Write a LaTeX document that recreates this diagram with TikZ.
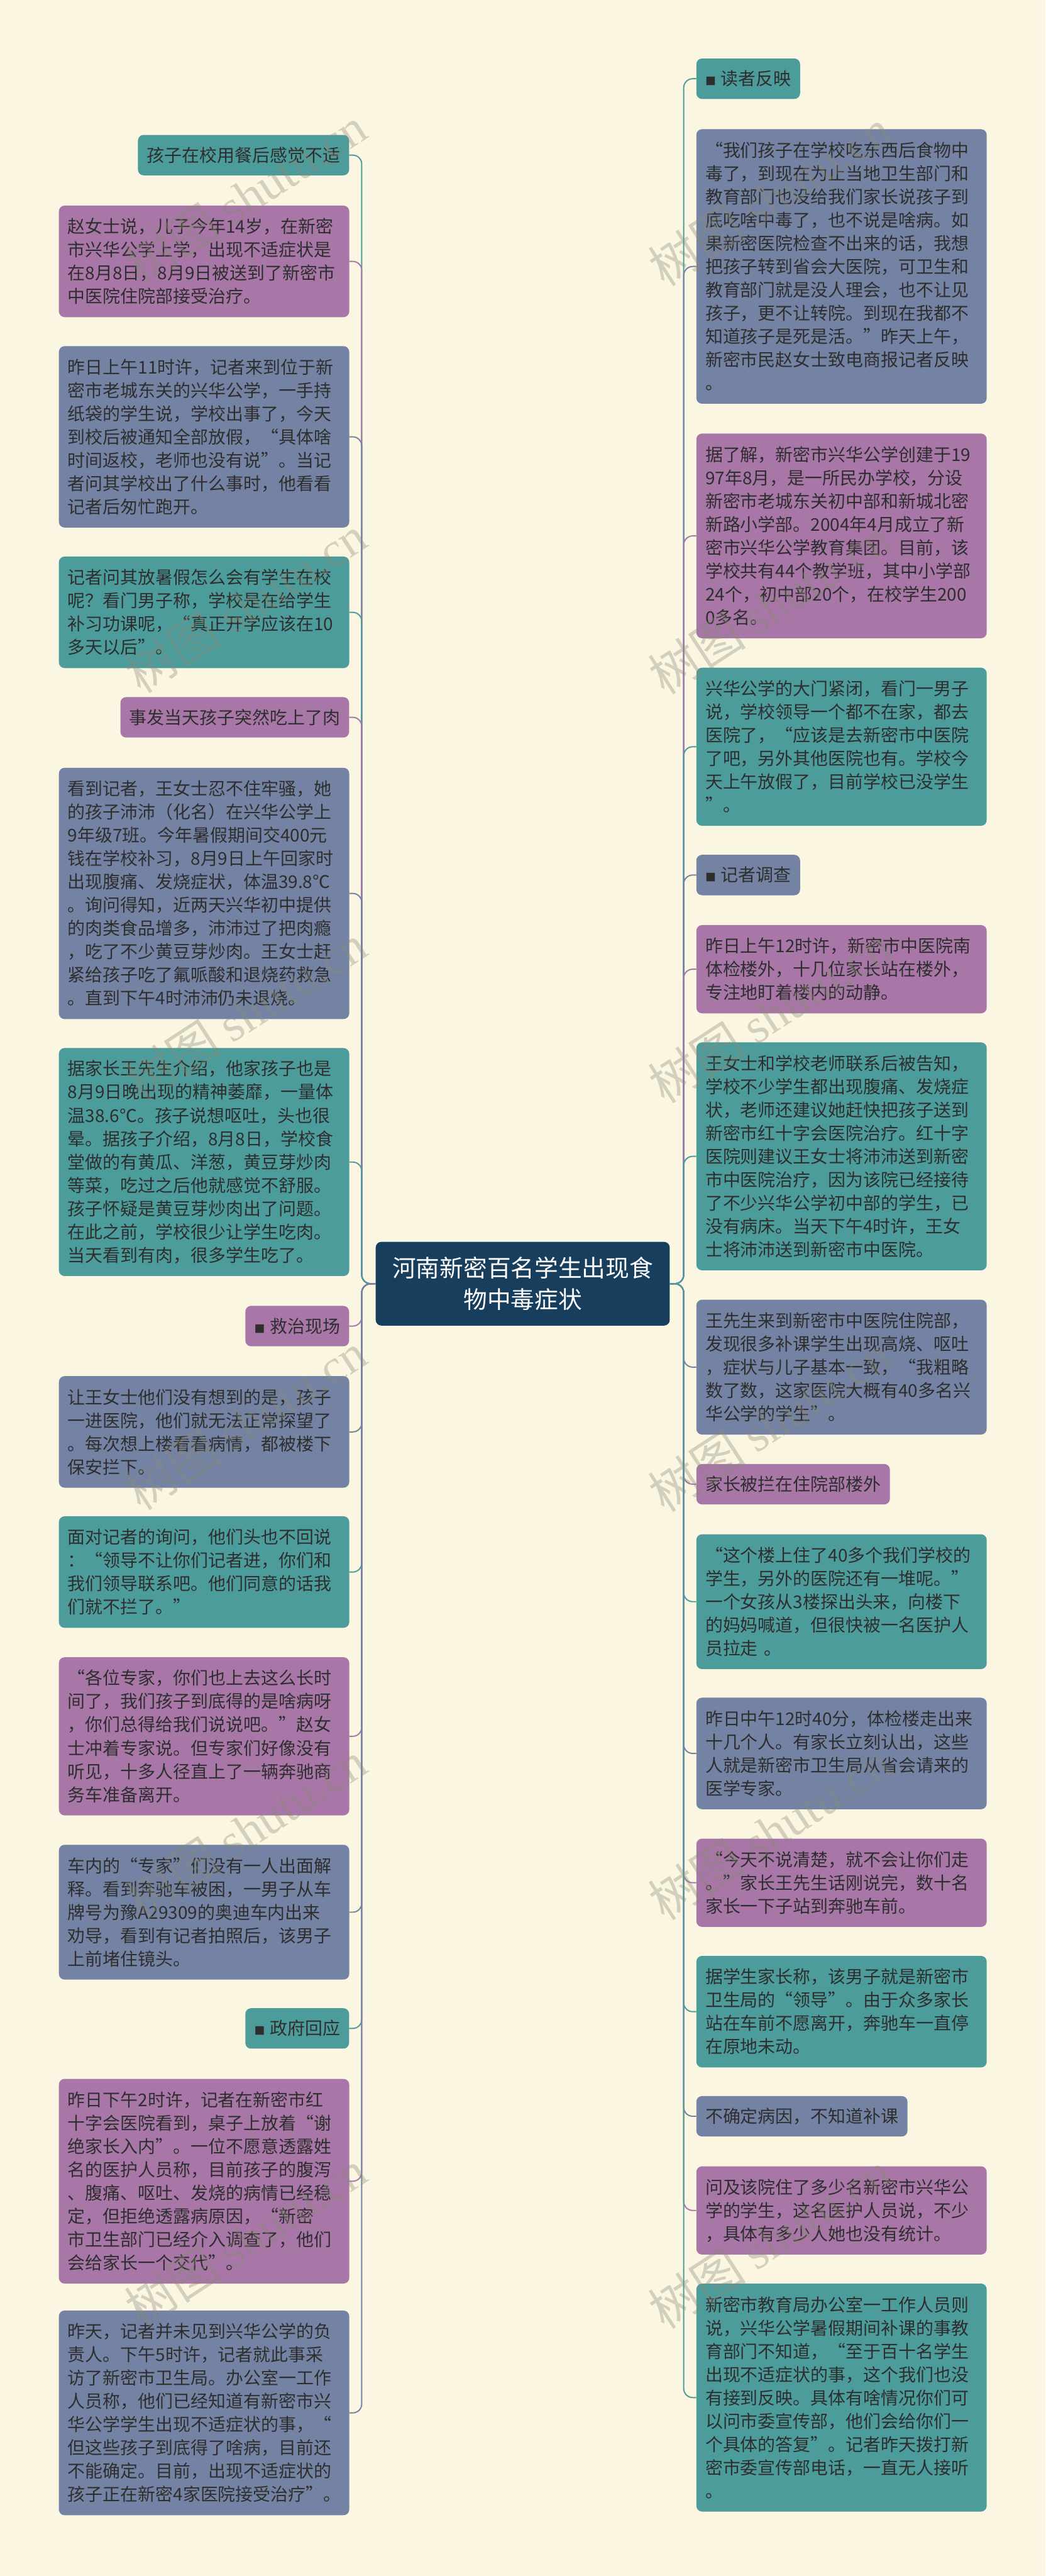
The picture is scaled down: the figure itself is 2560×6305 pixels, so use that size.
\documentclass[tikz,border=0pt]{standalone}
\usepackage{fontspec}
\setmainfont{Noto Sans CJK SC}
\newfontfamily\wmserif{Liberation Serif}
\definecolor{bg}{HTML}{FAF6E2}
\definecolor{cteal}{HTML}{4D9C9C}
\definecolor{cpurp}{HTML}{A877A8}
\definecolor{cblue}{HTML}{7483A3}
\definecolor{cnavy}{HTML}{183E5D}
\definecolor{txt}{HTML}{2E2E2E}
\definecolor{wm}{HTML}{8A8A76}
\newcommand{\sqmark}{{\fontsize{26}{26}\selectfont ■}\hspace{12pt}}
\begin{document}
\begin{tikzpicture}[x=1pt,y=-1pt,
  box/.style={rounded corners=14pt, inner xsep=22pt, inner ysep=0pt, text=txt,
    font=\fontsize{43}{57}\selectfont},
  para/.style={box, text width=667pt, align=left, anchor=north west},
  tagl/.style={box, anchor=north east, minimum height=99pt},
  tagr/.style={box, anchor=north west, minimum height=99pt},
  teal/.style={fill=cteal},
  purp/.style={fill=cpurp},
  blu/.style={fill=cblue},
  conn/.style={line width=3pt, rounded corners=22pt},
  wmark/.style={rotate=33, anchor=base west, text=wm, text opacity=0.35,
    font=\fontsize{120}{120}\selectfont, inner sep=0pt}
]
\fill[bg] (0,0) rectangle (2560,6305);
\useasboundingbox (0,0) rectangle (2560,6305);

% central node
\node[rounded corners=14pt, fill=cnavy, text=white, align=center,
  minimum width=720pt, minimum height=205pt, inner sep=0pt,
  font=\fontsize{58}{78}\selectfont] (C) at (1280,3142)
  {河南新密百名学生出现食\\物中毒症状};

% ---------------- left column ----------------
\node[tagl, teal] (L1) at (855,330) {孩子在校用餐后感觉不适};
\node[para, purp, minimum height=273pt] (L2) at (144,503)
{赵女士说，儿子今年14岁，在新密\\市兴华公学上学，出现不适症状是\\在8月8日，8月9日被送到了新密市\\中医院住院部接受治疗。};
\node[para, blu, minimum height=444pt] (L3) at (144,847)
{昨日上午11时许，记者来到位于新\\密市老城东关的兴华公学，一手持\\纸袋的学生说，学校出事了，今天\\到校后被通知全部放假，“具体啥\\时间返校，老师也没有说”。当记\\者问其学校出了什么事时，他看看\\记者后匆忙跑开。};
\node[para, teal, minimum height=273pt] (L4) at (144,1362)
{记者问其放暑假怎么会有学生在校\\呢？看门男子称，学校是在给学生\\补习功课呢，“真正开学应该在10\\多天以后”。};
\node[tagl, purp] (L5) at (855,1706) {事发当天孩子突然吃上了肉};
\node[para, blu, minimum height=615pt] (L6) at (144,1879)
{看到记者，王女士忍不住牢骚，她\\的孩子沛沛（化名）在兴华公学上\\9年级7班。今年暑假期间交400元\\钱在学校补习，8月9日上午回家时\\出现腹痛、发烧症状，体温39.8℃\\。询问得知，近两天兴华初中提供\\的肉类食品增多，沛沛过了把肉瘾\\，吃了不少黄豆芽炒肉。王女士赶\\紧给孩子吃了氟哌酸和退烧药救急\\。直到下午4时沛沛仍未退烧。};
\node[para, teal, minimum height=558pt] (L7) at (144,2565)
{据家长王先生介绍，他家孩子也是\\8月9日晚出现的精神萎靡，一量体\\温38.6℃。孩子说想呕吐，头也很\\晕。据孩子介绍，8月8日，学校食\\堂做的有黄瓜、洋葱，黄豆芽炒肉\\等菜，吃过之后他就感觉不舒服。\\孩子怀疑是黄豆芽炒肉出了问题。\\在此之前，学校很少让学生吃肉。\\当天看到有肉，很多学生吃了。};
\node[tagl, purp] (L8) at (855,3196) {\sqmark 救治现场};
\node[para, blu, minimum height=273pt] (L9) at (144,3368)
{让王女士他们没有想到的是，孩子\\一进医院，他们就无法正常探望了\\。每次想上楼看看病情，都被楼下\\保安拦下。};
\node[para, teal, minimum height=273pt] (L10) at (144,3711)
{面对记者的询问，他们头也不回说\\：“领导不让你们记者进，你们和\\我们领导联系吧。他们同意的话我\\们就不拦了。”};
\node[para, purp, minimum height=387pt] (L11) at (144,4056)
{“各位专家，你们也上去这么长时\\间了，我们孩子到底得的是啥病呀\\，你们总得给我们说说吧。”赵女\\士冲着专家说。但专家们好像没有\\听见，十多人径直上了一辆奔驰商\\务车准备离开。};
\node[para, blu, minimum height=330pt] (L12) at (144,4515)
{车内的“专家”们没有一人出面解\\释。看到奔驰车被困，一男子从车\\牌号为豫A29309的奥迪车内出来\\劝导，看到有记者拍照后，该男子\\上前堵住镜头。};
\node[tagl, teal] (L13) at (855,4915) {\sqmark 政府回应};
\node[para, purp, minimum height=501pt] (L14) at (144,5088)
{昨日下午2时许，记者在新密市红\\十字会医院看到，桌子上放着“谢\\绝家长入内”。一位不愿意透露姓\\名的医护人员称，目前孩子的腹泻\\、腹痛、呕吐、发烧的病情已经稳\\定，但拒绝透露病原因，“新密\\市卫生部门已经介入调查了，他们\\会给家长一个交代”。};
\node[para, blu, minimum height=501pt] (L15) at (144,5655)
{昨天，记者并未见到兴华公学的负\\责人。下午5时许，记者就此事采\\访了新密市卫生局。办公室一工作\\人员称，他们已经知道有新密市兴\\华公学学生出现不适症状的事，“\\但这些孩子到底得了啥病，目前还\\不能确定。目前，出现不适症状的\\孩子正在新密4家医院接受治疗”。};

% ---------------- right column ----------------
\node[tagr, teal] (R1) at (1705,143) {\sqmark 读者反映};
\node[para, blu, minimum height=672pt] (R2) at (1705,316)
{“我们孩子在学校吃东西后食物中\\毒了，到现在为止当地卫生部门和\\教育部门也没给我们家长说孩子到\\底吃啥中毒了，也不说是啥病。如\\果新密医院检查不出来的话，我想\\把孩子转到省会大医院，可卫生和\\教育部门就是没人理会，也不让见\\孩子，更不让转院。到现在我都不\\知道孩子是死是活。”昨天上午，\\新密市民赵女士致电商报记者反映\\。};
\node[para, purp, minimum height=501pt] (R3) at (1705,1061)
{据了解，新密市兴华公学创建于19\\97年8月，是一所民办学校，分设\\新密市老城东关初中部和新城北密\\新路小学部。2004年4月成立了新\\密市兴华公学教育集团。目前，该\\学校共有44个教学班，其中小学部\\24个，初中部20个，在校学生200\\0多名。};
\node[para, teal, minimum height=387pt] (R4) at (1705,1634)
{兴华公学的大门紧闭，看门一男子\\说，学校领导一个都不在家，都去\\医院了，“应该是去新密市中医院\\了吧，另外其他医院也有。学校今\\天上午放假了，目前学校已没学生\\”。};
\node[tagr, blu] (R5) at (1705,2092) {\sqmark 记者调查};
\node[para, purp, minimum height=216pt] (R6) at (1705,2264)
{昨日上午12时许，新密市中医院南\\体检楼外，十几位家长站在楼外，\\专注地盯着楼内的动静。};
\node[para, teal, minimum height=558pt] (R7) at (1705,2551)
{王女士和学校老师联系后被告知，\\学校不少学生都出现腹痛、发烧症\\状，老师还建议她赶快把孩子送到\\新密市红十字会医院治疗。红十字\\医院则建议王女士将沛沛送到新密\\市中医院治疗，因为该院已经接待\\了不少兴华公学初中部的学生，已\\没有病床。当天下午4时许，王女\\士将沛沛送到新密市中医院。};
\node[para, blu, minimum height=330pt] (R8) at (1705,3181)
{王先生来到新密市中医院住院部，\\发现很多补课学生出现高烧、呕吐\\，症状与儿子基本一致，“我粗略\\数了数，这家医院大概有40多名兴\\华公学的学生”。};
\node[tagr, purp] (R9) at (1705,3583) {家长被拦在住院部楼外};
\node[para, teal, minimum height=330pt] (R10) at (1705,3755)
{“这个楼上住了40多个我们学校的\\学生，另外的医院还有一堆呢。”\\一个女孩从3楼探出头来，向楼下\\的妈妈喊道，但很快被一名医护人\\员拉走~。};
\node[para, blu, minimum height=273pt] (R11) at (1705,4155)
{昨日中午12时40分，体检楼走出来\\十几个人。有家长立刻认出，这些\\人就是新密市卫生局从省会请来的\\医学专家。};
\node[para, purp, minimum height=216pt] (R12) at (1705,4500)
{“今天不说清楚，就不会让你们走\\。”家长王先生话刚说完，数十名\\家长一下子站到奔驰车前。};
\node[para, teal, minimum height=273pt] (R13) at (1705,4787)
{据学生家长称，该男子就是新密市\\卫生局的“领导”。由于众多家长\\站在车前不愿离开，奔驰车一直停\\在原地未动。};
\node[tagr, blu] (R14) at (1705,5130) {不确定病因，不知道补课};
\node[para, purp, minimum height=216pt] (R15) at (1705,5302)
{问及该院住了多少名新密市兴华公\\学的学生，这名医护人员说，不少\\，具体有多少人她也没有统计。};
\node[para, teal, minimum height=558pt] (R16) at (1705,5589)
{新密市教育局办公室一工作人员则\\说，兴华公学暑假期间补课的事教\\育部门不知道，“至于百十名学生\\出现不适症状的事，这个我们也没\\有接到反映。具体有啥情况你们可\\以问市委宣传部，他们会给你们一\\个具体的答复”。记者昨天拨打新\\密市委宣传部电话，一直无人接听\\。};

% ---------------- connectors ----------------
\foreach \n/\c in {L1/cteal,L2/cpurp,L3/cblue,L4/cteal,L5/cpurp,L6/cblue,L7/cteal,L8/cpurp,
                   L9/cblue,L10/cteal,L11/cpurp,L12/cblue,L13/cteal,L14/cpurp,L15/cblue}
  \draw[conn, draw=\c] (C.west) -- ++(-34,0) |- (\n.east);
\foreach \n/\c in {R1/cteal,R2/cblue,R3/cpurp,R4/cteal,R5/cblue,R6/cpurp,R7/cteal,R8/cblue,
                   R9/cpurp,R10/cteal,R11/cblue,R12/cpurp,R13/cteal,R14/cblue,R15/cpurp,R16/cteal}
  \draw[conn, draw=\c] (C.east) -- ++(34,0) |- (\n.west);

% ---------------- watermark ----------------
\foreach \k in {0,...,5} {
  \node[wmark] (wl\k) at (345,{700+1000*\k}) {树图 {\wmserif shutu.cn}};
  \node[wmark] (wr\k) at (1628,{704+1000*\k}) {树图 {\wmserif shutu.cn}};
}
\end{tikzpicture}
\end{document}
